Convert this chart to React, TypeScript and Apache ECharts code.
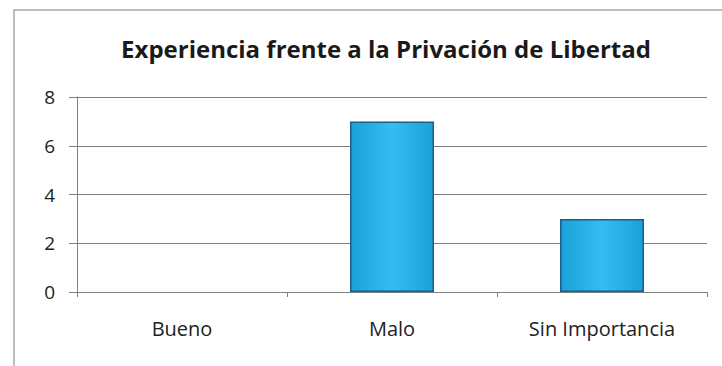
import React, { useEffect, useRef } from "react";
import * as echarts from "echarts";

const categories = ["Bueno", "Malo", "Sin Importancia"];
const values = [0, 7, 3];
const title = "Experiencia frente a la Privación de Libertad";

export default function App() {
  const ref = useRef<HTMLDivElement>(null);
  useEffect(() => {
    if (!ref.current) return;
    const chart = echarts.init(ref.current, null, { renderer: "svg" });
    chart.setOption({
      animation: false,
      backgroundColor: "#ffffff",
      title: {
        text: title,
        left: 381,
        textAlign: "center",
        top: 31,
        textStyle: { fontFamily: "Open Sans", fontWeight: "bold", fontSize: 24, color: "#1a1a1a" },
      },
      graphic: [
        {
          type: "rect",
          shape: { x: 14, y: 10, width: 740, height: 380 },
          style: { fill: "none", stroke: "#a8a8a8", lineWidth: 1.5 },
          silent: true,
        },
      ],
      grid: { left: 77, right: 15, top: 97, bottom: 74 },
      xAxis: {
        type: "category",
        data: categories,
        axisLine: { show: true, lineStyle: { color: "#808080", width: 1 } },
        axisTick: { show: true, alignWithLabel: false, length: 5, lineStyle: { color: "#808080" } },
        axisLabel: { fontFamily: "Open Sans", fontSize: 20, color: "#222", margin: 26 },
      },
      yAxis: {
        type: "value",
        min: 0,
        max: 8,
        interval: 2,
        axisLine: { show: true, lineStyle: { color: "#808080", width: 1 } },
        axisTick: { show: true, length: 8, lineStyle: { color: "#808080" } },
        axisLabel: { fontFamily: "Open Sans", fontSize: 19, color: "#222", margin: 22 },
        splitLine: { show: true, lineStyle: { color: "#808080", width: 1 } },
      },
      series: [
        {
          type: "bar",
          data: values.map((v) => (v === 0 ? null : v)),
          barWidth: "40%",
          itemStyle: {
            color: new echarts.graphic.LinearGradient(0, 0, 1, 0, [
              { offset: 0, color: "#1aa2d8" },
              { offset: 0.5, color: "#34bdf0" },
              { offset: 1, color: "#1aa2d8" },
            ]),
            borderColor: "#1b5f86",
            borderWidth: 1.5,
          },
        },
      ],
    });
    return () => chart.dispose();
  }, []);
  return (
    <div
      ref={ref}
      style={{ position: "fixed", left: 0, top: 0, width: 722, height: 366 }}
    />
  );
}
